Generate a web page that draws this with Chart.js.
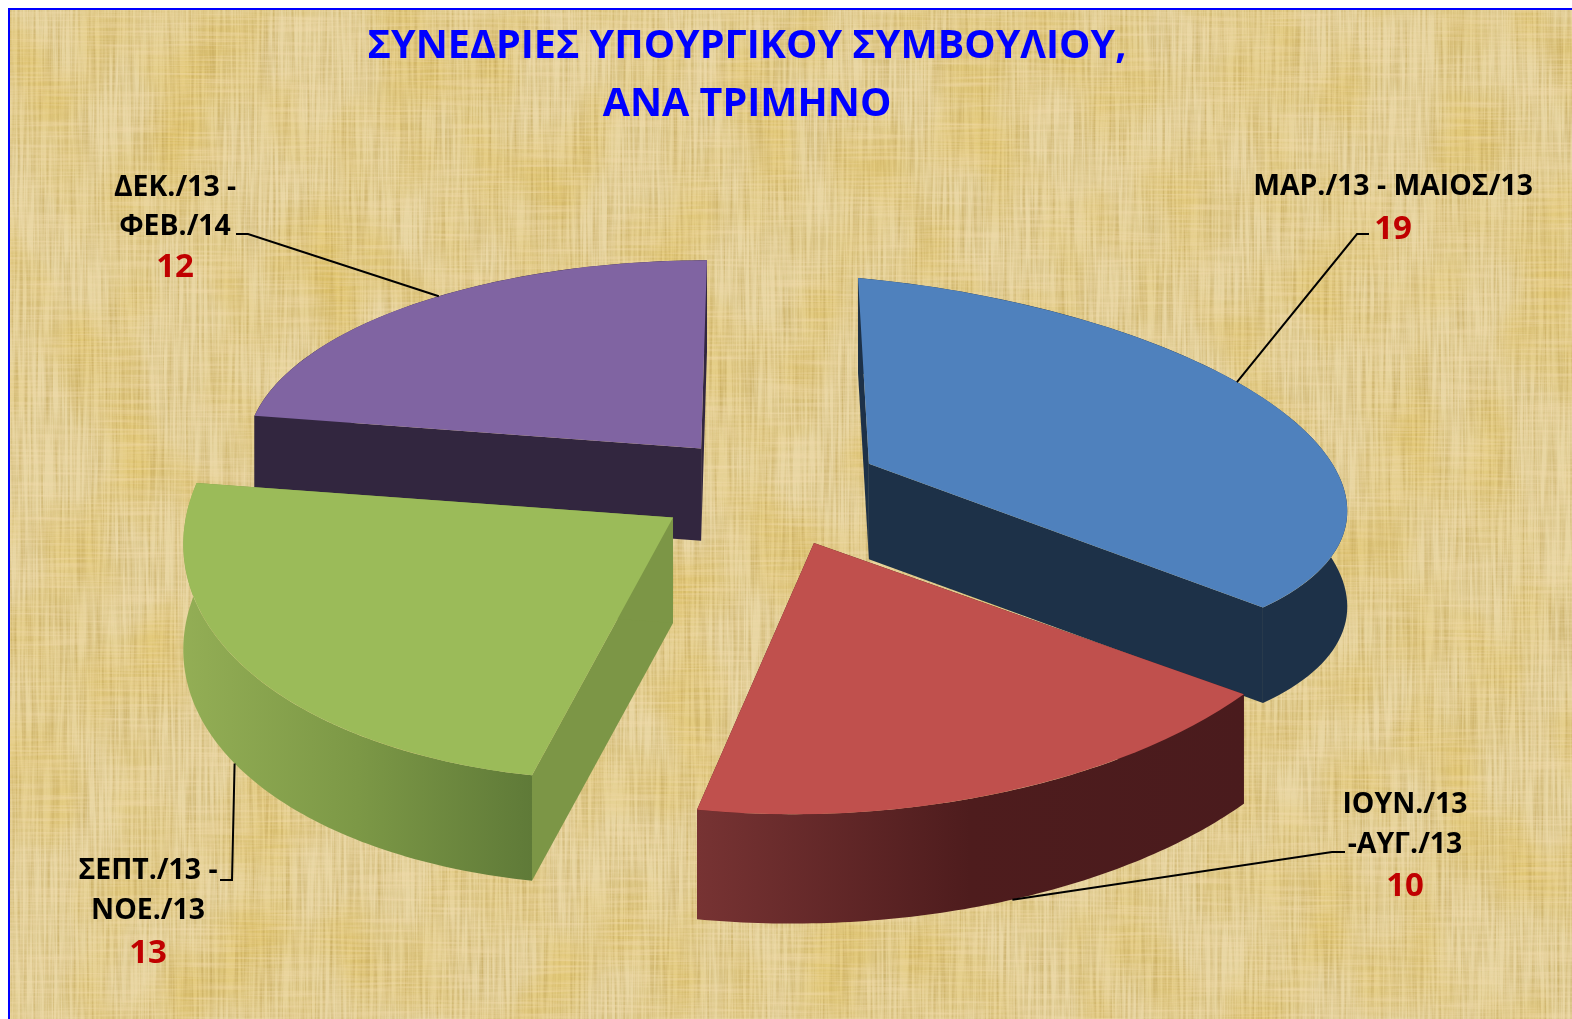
<!DOCTYPE html>
<html lang="el">
<head>
<meta charset="utf-8">
<title>Συνεδριες Υπουργικου Συμβουλιου</title>
<script src="https://cdn.jsdelivr.net/npm/chart.js@4"></script>
<style>
  html, body { margin: 0; padding: 0; background: #fff; overflow: hidden; }
  #wrap { position: relative; width: 1572px; height: 1019px; overflow: hidden; }
  #paper { position: absolute; left: 8px; top: 8px; width: 1564px; height: 1011px; border-left: 2px solid #0000FF; border-top: 2px solid #0000FF; box-sizing: border-box; overflow: hidden; }
  #paper svg { display: block; }
  canvas { position: absolute; left: 0; top: 0; }
</style>
</head>
<body>
<div id="wrap">
  <div id="paper">
    <svg width="1564" height="1011">
      <defs>
        <filter id="fibreV" x="0" y="0" width="100%" height="100%" color-interpolation-filters="sRGB">
          <feTurbulence type="fractalNoise" baseFrequency="0.38 0.012" numOctaves="2" seed="4"/>
          <feColorMatrix values="0 0 0 0 .72  0 0 0 0 .60  0 0 0 0 .28  1.1 0 0 0 -.41"/>
          <feGaussianBlur stdDeviation="0.5"/>
        </filter>
        <filter id="fibreH" x="0" y="0" width="100%" height="100%" color-interpolation-filters="sRGB">
          <feTurbulence type="fractalNoise" baseFrequency="0.012 0.38" numOctaves="2" seed="9"/>
          <feColorMatrix values="0 0 0 0 .95  0 0 0 0 .86  0 0 0 0 .68  1.1 0 0 0 -.41"/>
          <feGaussianBlur stdDeviation="0.5"/>
        </filter>
        <filter id="blotch" x="0" y="0" width="100%" height="100%" color-interpolation-filters="sRGB">
          <feTurbulence type="fractalNoise" baseFrequency="0.014 0.01" numOctaves="2" seed="12"/>
          <feColorMatrix values="0 0 0 0 .88  0 0 0 0 .76  0 0 0 0 .38  1.6 0 0 0 -.62"/>
        </filter>
      </defs>
      <rect width="1564" height="1011" fill="#E8D6A2"/>
      <rect width="1564" height="1011" filter="url(#blotch)"/>
      <rect width="1564" height="1011" filter="url(#fibreV)"/>
      <rect width="1564" height="1011" filter="url(#fibreH)"/>
    </svg>
  </div>
  <canvas id="pieChart" width="1572" height="1019"></canvas>
</div>
<script>
const categories = ['ΜΑΡ./13 - ΜΑΙΟΣ/13', 'ΙΟΥΝ./13 -ΑΥΓ./13', 'ΣΕΠΤ./13 - ΝΟΕ./13', 'ΔΕΚ./13 - ΦΕΒ./14'];
const sessions = [19, 10, 13, 12];
const titleLines = ['ΣΥΝΕΔΡΙΕΣ ΥΠΟΥΡΓΙΚΟΥ ΣΥΜΒΟΥΛΙΟΥ,', 'ΑΝΑ ΤΡΙΜΗΝΟ'];
const labelLines = [['ΜΑΡ./13 - ΜΑΙΟΣ/13'], ['ΙΟΥΝ./13', '-ΑΥΓ./13'], ['ΣΕΠΤ./13 -', 'ΝΟΕ./13'], ['ΔΕΚ./13 -', 'ΦΕΒ./14']];

const topColors = ['#4F81BD', '#C0504D', '#9BBB59', '#8064A2'];
const edgeColors = ['#1D3148', '#4D1C1D', '#7C9646', '#32263F'];
const wallStops = [
    ['#1D3148', '#1D3148', '#1D3148'],
    ['#773333', '#4E1C1D', '#4A1B1D'],
    ['#93AE55', '#7C9846', '#5F7A38'],
    ['#32263F', '#32263F', '#32263F']
];

// Where the labels sit and how their leader lines run
const labelPos = [
    { x: 1393, y: [187], valueX: 1393, valueY: 230, anchor: 0.41, low: false, leader: [[1357, 234], [1369, 234]] },
    { x: 1405, y: [805, 845], valueX: 1405, valueY: 887, anchor: 0.48, low: true, leader: [[1332, 852], [1345, 852]] },
    { x: 148, y: [871, 911], valueX: 148, valueY: 954, anchor: 0.54, low: true, leader: [[232, 880], [220, 880]] },
    { x: 175, y: [188, 227], valueX: 175, valueY: 268, anchor: 0.55, low: false, leader: [[248, 234], [236, 234]] }
];

const PIE_X = 771;
const PIE_Y = 483;
const FONT = "'Open Sans', 'Noto Sans', sans-serif";

// Nearer slices are drawn bigger and lean away, a cheap stand-in for the perspective
function tilt(mid) {
    const s = Math.sin(mid);
    const c = Math.cos(mid);
    const frontRight = Math.max(0, s) * Math.max(0, c);
    const frontLeft = Math.max(0, s) * Math.max(0, -c);
    const backRight = Math.max(0, -s) * Math.max(0, c);
    const backLeft = Math.max(0, -s) * Math.max(0, -c);
    return {
        rx: 480 + 20 * s + 8 * c + 100 * frontRight + 10 * frontLeft - 10 * backLeft,
        ry: 222 + 52 * s - 14 * c + 15 * frontRight - 6 * backLeft,
        depth: 100 + 10 * s,
        shearY: 0.075 * Math.max(0, c) - 0.05 * frontLeft - 0.16 * frontRight + 0.05 * backRight,
        shearX: 0.05 * c - 0.15 * frontLeft + 0.08 * backRight
    };
}

// Geometry of one arc, following what ArcElement.draw does with the offset
function sliceGeometry(arc) {
    const start = arc.startAngle;
    const end = arc.endAngle;
    const mid = (start + end) / 2;
    const d = (arc.options.offset || 0) / 4;
    const sweep = end - start;
    const fix = 1 - Math.sin(Math.min(Math.PI, sweep));
    const r = arc.outerRadius + d * fix;
    const beta = Math.max(0.001, sweep * r - d * fix / Math.PI) / r;
    const trim = (sweep - beta) / 2;
    const t = tilt(mid);
    const sx = t.rx / r;
    const sy = t.ry / r;
    const point = (a, radius) => ({
        x: PIE_X + (Math.cos(mid) * d + Math.cos(a) * radius) * sx + Math.sin(a) * radius * sy * t.shearX,
        y: PIE_Y + (Math.sin(mid) * d + Math.sin(a) * radius) * sy + Math.cos(a) * radius * sx * t.shearY
    });
    return { mid, d, r, sx, sy, shearX: t.shearX, shearY: t.shearY, depth: t.depth, a0: start + trim, a1: end - trim, point };
}

function drawWall(ctx, pts, depth, fill) {
    ctx.beginPath();
    pts.forEach((p, i) => (i ? ctx.lineTo(p.x, p.y) : ctx.moveTo(p.x, p.y)));
    for (let i = pts.length - 1; i >= 0; i--) ctx.lineTo(pts[i].x, pts[i].y + depth);
    ctx.closePath();
    ctx.fillStyle = fill;
    ctx.fill();
}

const pie3d = {
    id: 'pie3d',
    beforeDatasetsDraw(chart) {
        const ctx = chart.ctx;
        const arcs = chart.getDatasetMeta(0).data.map((arc, i) => ({ arc, i, g: sliceGeometry(arc) }));
        // back slices first
        arcs.sort((a, b) => Math.sin(a.g.mid) - Math.sin(b.g.mid));
        arcs.forEach(({ arc, i, g }) => {
            const apex = g.point(0, 0);
            drawWall(ctx, [apex, g.point(g.a0, g.r)], g.depth, edgeColors[i]);
            drawWall(ctx, [apex, g.point(g.a1, g.r)], g.depth, edgeColors[i]);

            const rim = [];
            for (let k = 0; k <= 80; k++) rim.push(g.point(g.a0 + (g.a1 - g.a0) * k / 80, g.r));
            const xs = rim.map(p => p.x);
            const grad = ctx.createLinearGradient(Math.min(...xs), 0, Math.max(...xs), 0);
            wallStops[i].forEach((c, k) => grad.addColorStop(k / 2, c));
            drawWall(ctx, rim, g.depth, grad);

            // the shears pivot on the slice's apex, so they leave the apex where it is
            const e = PIE_X - arc.x * g.sx - (arc.y + Math.sin(g.mid) * g.d) * g.sy * g.shearX;
            const f = PIE_Y - arc.y * g.sy - (arc.x + Math.cos(g.mid) * g.d) * g.sx * g.shearY;
            ctx.save();
            ctx.setTransform(g.sx, g.sx * g.shearY, g.sy * g.shearX, g.sy, e, f);
            arc.draw(ctx);
            ctx.restore();
        });
        return false;
    },
    afterDraw(chart) {
        const ctx = chart.ctx;
        ctx.save();
        chart.getDatasetMeta(0).data.forEach((arc, i) => {
            const g = sliceGeometry(arc);
            const pos = labelPos[i];
            const from = g.point(g.a0 + (g.a1 - g.a0) * pos.anchor, g.r);
            ctx.beginPath();
            ctx.moveTo(from.x, from.y + (pos.low ? g.depth : 0));
            pos.leader.forEach(p => ctx.lineTo(p[0], p[1]));
            ctx.strokeStyle = '#000';
            ctx.lineWidth = 2;
            ctx.stroke();

            ctx.textAlign = 'center';
            ctx.textBaseline = 'middle';
            ctx.fillStyle = '#000';
            ctx.font = 'bold 28.4px ' + FONT;
            labelLines[i].forEach((line, k) => ctx.fillText(line, pos.x, pos.y[k]));
            ctx.fillStyle = '#C00000';
            ctx.font = 'bold 33px ' + FONT;
            ctx.fillText(String(sessions[i]), pos.valueX, pos.valueY);
        });
        ctx.restore();
    }
};

new Chart(document.getElementById('pieChart'), {
    type: 'pie',
    data: {
        labels: categories,
        datasets: [{
            data: sessions,
            backgroundColor: topColors,
            borderWidth: 0,
            offset: 285
        }]
    },
    options: {
        responsive: false,
        animation: false,
        rotation: 0,
        layout: { padding: { right: 78 } },
        plugins: {
            legend: { display: false },
            tooltip: { enabled: false },
            title: {
                display: true,
                fullSize: false,
                text: titleLines,
                color: '#0000FF',
                font: { family: FONT, size: 39.5, weight: 'bold', lineHeight: 1.47 },
                padding: { top: 18, bottom: 6 }
            }
        }
    },
    plugins: [pie3d]
});
</script>
</body>
</html>
